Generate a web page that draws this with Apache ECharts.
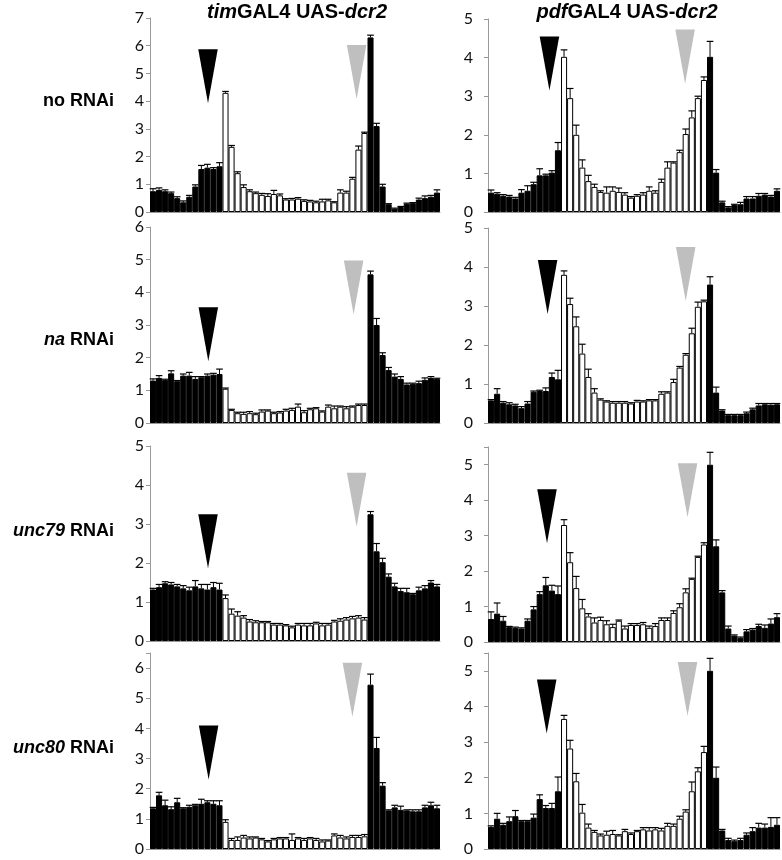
<!DOCTYPE html>
<html>
<head>
<meta charset="utf-8">
<script src="https://cdn.jsdelivr.net/npm/echarts@6/dist/echarts.min.js"></script>
<style>
  html, body { margin: 0; padding: 0; background: #fff; }
  #chart { width: 782px; height: 860px; }
</style>
</head>
<body>
<div id="chart"></div>
<script>
// half-hour bins, starting at ZT18 (dark), light ZT0-12, dark again
const bins = ['18:00','18:30','19:00','19:30','20:00','20:30','21:00','21:30','22:00','22:30','23:00','23:30',
  '0:00','0:30','1:00','1:30','2:00','2:30','3:00','3:30','4:00','4:30','5:00','5:30',
  '6:00','6:30','7:00','7:30','8:00','8:30','9:00','9:30','10:00','10:30','11:00','11:30',
  '12:00','12:30','13:00','13:30','14:00','14:30','15:00','15:30','16:00','16:30','17:00','17:30'];
const lightBins = [12, 35]; // first and last light bin

// timGAL4 UAS-dcr2
const timNoRnai = [0.75,0.8,0.75,0.68,0.5,0.35,0.55,0.92,1.55,1.6,1.55,1.65,
  4.3,2.35,1.4,0.9,0.75,0.68,0.62,0.58,0.65,0.6,0.45,0.45,0.48,0.4,0.38,0.35,0.38,0.42,0.35,0.7,0.7,1.2,2.25,2.85,
  6.3,3.1,0.92,0.28,0.12,0.18,0.3,0.32,0.45,0.5,0.55,0.7];
const timNoRnaiErr = [0.09,0.07,0.05,0.04,0.05,0.05,0.05,0.06,0.13,0.12,0.05,0.13,
  0.05,0.05,0.05,0.08,0.05,0.04,0.05,0.08,0.13,0.05,0.03,0.04,0.04,0.04,0.04,0.04,0.08,0.04,0.02,0.1,0.05,0.05,0.13,0.03,
  0.08,0.1,0.08,0.02,0.02,0.02,0.02,0.02,0.05,0.08,0.05,0.1];
const timNa = [1.3,1.38,1.32,1.52,1.28,1.45,1.45,1.35,1.4,1.45,1.48,1.5,
  1.05,0.4,0.3,0.28,0.3,0.27,0.35,0.38,0.3,0.32,0.38,0.4,0.5,0.33,0.42,0.45,0.35,0.5,0.45,0.5,0.45,0.5,0.55,0.55,
  4.55,3.0,2.08,1.62,1.42,1.35,1.18,1.2,1.22,1.32,1.38,1.35];
const timNaErr = [0.05,0.07,0.02,0.08,0.02,0.05,0.1,0.07,0.02,0.05,0.04,0.15,
  0.02,0.02,0.03,0.05,0.05,0.03,0.05,0.02,0.03,0.03,0.04,0.05,0.08,0.05,0.03,0.02,0.02,0.05,0.07,0.02,0.05,0.02,0.03,0.03,
  0.1,0.2,0.07,0.08,0.08,0.07,0.04,0.02,0.06,0.06,0.04,0.02];
const timUnc79 = [1.32,1.38,1.48,1.45,1.4,1.35,1.3,1.4,1.35,1.32,1.38,1.32,
  1.1,0.7,0.65,0.6,0.5,0.48,0.48,0.48,0.42,0.42,0.4,0.35,0.42,0.4,0.4,0.45,0.4,0.42,0.5,0.52,0.55,0.58,0.6,0.55,
  3.25,2.3,2.02,1.65,1.4,1.28,1.25,1.2,1.3,1.35,1.5,1.4];
const timUnc79Err = [0.03,0.07,0.04,0.05,0.05,0.07,0.08,0.15,0.1,0.13,0.12,0.16,
  0.08,0.12,0.1,0.05,0.05,0.04,0.02,0.02,0.03,0.03,0.02,0.03,0.03,0.05,0.05,0.03,0.05,0.03,0.03,0.05,0.05,0.05,0.05,0.05,
  0.07,0.2,0.1,0.07,0.08,0.07,0.1,0.02,0.08,0.07,0.05,0.05];
const timUnc80 = [1.35,1.78,1.45,1.32,1.55,1.35,1.4,1.45,1.5,1.55,1.5,1.45,
  0.9,0.3,0.3,0.38,0.35,0.38,0.32,0.25,0.32,0.35,0.35,0.3,0.35,0.3,0.35,0.3,0.25,0.28,0.45,0.38,0.35,0.4,0.4,0.42,
  5.45,3.35,2.1,1.28,1.38,1.3,1.28,1.25,1.25,1.38,1.45,1.35];
const timUnc80Err = [0.03,0.1,0.17,0.08,0.13,0.02,0.05,0.03,0.15,0.05,0.1,0.15,
  0.07,0.05,0.1,0.07,0.05,0.02,0.03,0.03,0.03,0.03,0.03,0.2,0.03,0.05,0.03,0.05,0.05,0.02,0.05,0.07,0.05,0.05,0.05,0.06,
  0.35,0.35,0.1,0.02,0.07,0.12,0.02,0.05,0.05,0.07,0.1,0.1];

// pdfGAL4 UAS-dcr2
const pdfNoRnai = [0.5,0.47,0.42,0.4,0.35,0.5,0.55,0.72,0.95,0.95,1.02,1.6,
  4.02,2.95,2.0,1.15,0.8,0.65,0.52,0.5,0.55,0.52,0.45,0.37,0.42,0.45,0.55,0.5,0.78,1.15,1.28,1.55,2.02,2.45,2.95,3.42,
  4.02,1.02,0.25,0.12,0.18,0.2,0.35,0.35,0.42,0.45,0.4,0.55];
const pdfNoRnaiErr = [0.07,0.03,0.03,0.03,0.03,0.08,0.13,0.05,0.17,0.03,0.05,0.2,
  0.18,0.25,0.25,0.2,0.15,0.07,0.03,0.15,0.1,0.1,0.05,0.03,0.03,0.05,0.1,0.05,0.07,0.15,0.02,0.05,0.13,0.17,0.05,0.08,
  0.4,0.08,0.03,0.02,0.02,0.05,0.05,0.05,0.06,0.03,0.03,0.05];
const pdfNa = [0.58,0.75,0.52,0.48,0.45,0.38,0.5,0.8,0.82,0.82,1.18,1.12,
  3.8,3.05,2.48,1.78,1.18,0.78,0.6,0.55,0.52,0.52,0.52,0.5,0.55,0.55,0.58,0.58,0.75,0.78,1.05,1.42,1.75,2.3,2.98,3.12,
  3.55,0.78,0.32,0.2,0.2,0.2,0.25,0.35,0.45,0.48,0.47,0.48];
const pdfNaErr = [0.02,0.13,0.03,0.04,0.03,0.04,0.05,0.02,0.02,0.08,0.1,0.23,
  0.1,0.15,0.24,0.24,0.2,0.1,0.02,0.02,0.03,0.03,0.03,0.02,0.03,0.02,0.02,0.02,0.05,0.02,0.07,0.03,0.03,0.13,0.12,0.03,
  0.2,0.14,0.02,0.02,0.02,0.02,0.03,0.03,0.05,0.02,0.03,0.02];
const pdfUnc79 = [0.65,0.8,0.6,0.42,0.4,0.38,0.6,0.92,1.35,1.6,1.45,1.35,
  3.3,2.25,1.52,0.95,0.72,0.55,0.62,0.5,0.42,0.6,0.38,0.48,0.48,0.5,0.4,0.45,0.62,0.62,0.82,0.98,1.4,1.78,2.4,2.75,
  5.0,2.7,1.4,0.38,0.18,0.12,0.3,0.35,0.45,0.4,0.52,0.7];
const pdfUnc79Err = [0.2,0.3,0.12,0.02,0.02,0.02,0.05,0.08,0.07,0.22,0.15,0.23,
  0.15,0.27,0.33,0.25,0.08,0.13,0.08,0.1,0.08,0.02,0.07,0.04,0.04,0.05,0.05,0.07,0.06,0.06,0.06,0.1,0.1,0.02,0.02,0.05,
  0.35,0.18,0.05,0.07,0.02,0.02,0.05,0.03,0.05,0.08,0.13,0.1];
const pdfUnc80 = [0.62,0.85,0.68,0.78,0.92,0.78,0.78,0.88,1.4,1.15,1.15,1.62,
  3.65,2.82,1.9,1.02,0.6,0.48,0.38,0.4,0.42,0.38,0.5,0.42,0.5,0.55,0.52,0.55,0.52,0.65,0.65,0.85,1.05,1.62,2.18,2.72,
  5.0,2.0,0.52,0.25,0.22,0.25,0.4,0.5,0.6,0.6,0.62,0.68];
const pdfUnc80Err = [0.03,0.15,0.04,0.12,0.16,0.02,0.02,0.1,0.12,0.07,0.13,0.4,
  0.1,0.23,0.22,0.23,0.1,0.04,0.04,0.1,0.1,0.02,0.05,0.03,0.02,0.05,0.08,0.05,0.06,0.07,0.05,0.07,0.05,0.26,0.1,0.16,
  0.35,0.3,0.03,0.05,0.03,0.05,0.05,0.1,0.12,0.1,0.26,0.2];

// arrowheads: [bin position, value] for the black (morning) and grey (evening) markers
const arrowsBlack = [[9.6,4.9],[10.1,3.85],[9.65,2.72],[9.8,3.49],[9.6,2.56],[9.7,3.55],[9.7,3.2],[9.65,4.0]];
const arrowsGrey  = [[34.2,5.05],[32.4,4.03],[33.7,4.15],[32.5,3.82],[34.2,3.62],[32.8,4.28],[33.5,5.28],[32.8,4.49]];

const yMaxes = [7, 5, 6, 5, 5, 5.5, 6.5, 5.5];

const rowLabels = ['no RNAi', '{i|na} RNAi', '{i|unc79} RNAi', '{i|unc80} RNAi'];

const panels = [
  [timNoRnai, timNoRnaiErr], [pdfNoRnai, pdfNoRnaiErr],
  [timNa, timNaErr], [pdfNa, pdfNaErr],
  [timUnc79, timUnc79Err], [pdfUnc79, pdfUnc79Err],
  [timUnc80, timUnc80Err], [pdfUnc80, pdfUnc80Err]
];

// layout (px)
const colLeft = [150, 488];
const colWidth = [290, 292];
const labelMargin = [6, 15];
const rowTop = [[18, 19], [227, 228], [446, 447], [653, 653]];
const rowHeight = [[194, 193], [196, 195], [195, 195], [196, 196]];

const chart = echarts.init(document.getElementById('chart'));

const grid = [], xAxis = [], yAxis = [], series = [];
panels.forEach(([vals, errs], p) => {
  const row = Math.floor(p / 2), col = p % 2;
  grid.push({
    left: colLeft[col], width: colWidth[col],
    top: rowTop[row][col], height: rowHeight[row][col],
    outerBoundsMode: 'none', containLabel: false
  });
  xAxis.push({
    type: 'category', gridIndex: p, data: bins, boundaryGap: true,
    axisLine: { show: true, lineStyle: { color: '#999', width: 1 } },
    axisTick: { show: false }, axisLabel: { show: false }, splitLine: { show: false }
  });
  xAxis.push({
    type: 'value', gridIndex: p, min: 0, max: 48, show: false, splitLine: { show: false }
  });
  yAxis.push({
    type: 'value', gridIndex: p, min: 0, max: yMaxes[p], interval: 1,
    axisLine: { show: true, lineStyle: { color: '#999', width: 1 } },
    axisTick: { show: true, length: 4, inside: false, lineStyle: { color: '#999' } },
    axisLabel: {
      show: true, margin: labelMargin[col], color: '#111',
      fontFamily: 'Lato', fontSize: 16,
      formatter: v => (Number.isInteger(v) ? String(v) : '')
    },
    splitLine: { show: false }
  });

  series.push({
    type: 'bar', xAxisIndex: p * 2, yAxisIndex: p,
    data: vals, barCategoryGap: '0%', barGap: '0%',
    itemStyle: {
      color: params => (params.dataIndex >= lightBins[0] && params.dataIndex <= lightBins[1]) ? '#fff' : '#000',
      borderColor: '#000', borderWidth: 1
    },
    emphasis: { disabled: true },
    animation: false
  });

  series.push({
    type: 'custom', xAxisIndex: p * 2, yAxisIndex: p,
    data: vals.map((v, i) => [i, v, v + errs[i]]),
    encode: { x: 0, y: [1, 2] },
    renderItem: (params, api) => {
      const i = api.value(0);
      const lo = api.coord([i, api.value(1)]);
      const hi = api.coord([i, api.value(2)]);
      const half = api.size([1, 0])[0] * 0.55;
      return {
        type: 'group',
        children: [
          { type: 'line', shape: { x1: lo[0], y1: lo[1], x2: hi[0], y2: hi[1] }, style: { stroke: '#000', lineWidth: 1 } },
          { type: 'line', shape: { x1: hi[0] - half, y1: hi[1], x2: hi[0] + half, y2: hi[1] }, style: { stroke: '#000', lineWidth: 1.2 } }
        ]
      };
    },
    z: 3, animation: false
  });

  series.push({
    type: 'scatter', xAxisIndex: p * 2 + 1, yAxisIndex: p,
    symbol: 'triangle', symbolRotate: 180, symbolSize: [19.5, 54],
    itemStyle: { opacity: 1 },
    data: [
      { value: arrowsBlack[p], itemStyle: { color: '#000', opacity: 1 } },
      { value: arrowsGrey[p], itemStyle: { color: '#bfbfbf', opacity: 1 } }
    ],
    emphasis: { disabled: true }, z: 4, animation: false
  });
});

const boldFont = { fontFamily: 'Liberation Sans', fontWeight: 'bold', color: '#000' };
const title = [
  {
    text: '{i|tim}GAL4 UAS-{i|dcr2}', left: 297, top: 2, textAlign: 'center', padding: 0,
    textStyle: Object.assign({ fontSize: 20, rich: { i: Object.assign({ fontSize: 20, fontStyle: 'italic' }, boldFont) } }, boldFont)
  },
  {
    text: '{i|pdf}GAL4 UAS-{i|dcr2}', left: 627, top: 2, textAlign: 'center', padding: 0,
    textStyle: Object.assign({ fontSize: 20, rich: { i: Object.assign({ fontSize: 20, fontStyle: 'italic' }, boldFont) } }, boldFont)
  }
];
const rowLabelTop = [92, 331, 522, 739];
rowLabels.forEach((t, r) => {
  title.push({
    text: t, left: 114, top: rowLabelTop[r], textAlign: 'right', padding: 0,
    textStyle: Object.assign({ fontSize: 18, rich: { i: Object.assign({ fontSize: 18, fontStyle: 'italic' }, boldFont) } }, boldFont)
  });
});

chart.setOption({
  backgroundColor: '#fff',
  animation: false,
  title: title,
  grid: grid,
  xAxis: xAxis,
  yAxis: yAxis,
  series: series
});
</script>
</body>
</html>
